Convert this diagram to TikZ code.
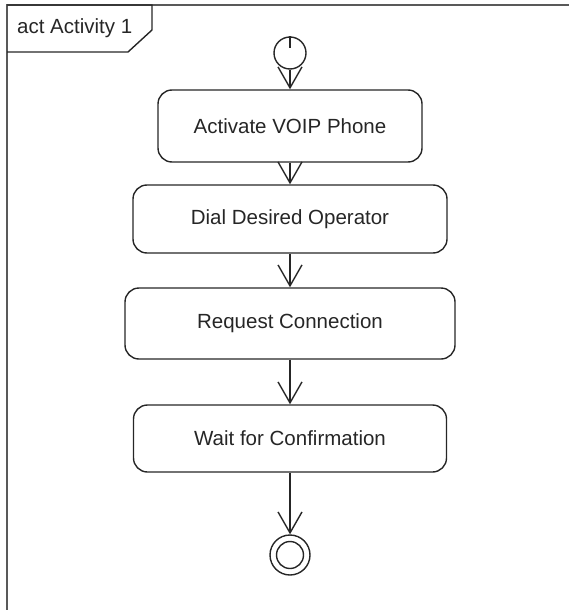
\documentclass[tikz,border=0pt]{standalone}
\usepackage{fontspec}
\setmainfont{Liberation Sans}
\usetikzlibrary{arrows.meta}
\begin{document}
\begin{tikzpicture}[x=1pt,y=-1pt,
  act/.style={draw=black!85, line width=1.4pt, rounded corners=14pt, inner sep=0pt,
    font=\fontsize{20.5}{24}\selectfont, text=black!85},
  flow/.style={draw=black!85, line width=1.4pt,
    -{Straight Barb[length=21pt,width=24pt,line width=1.4pt]}},
  lbl/.style={font=\fontsize{20.5}{24}\selectfont, text=black!85, inner sep=0pt}]
\useasboundingbox (0,0) rectangle (569,610);
% frame
\draw[line width=2pt, draw=black!65] (569,5) -- (7,5) -- (7,610);
\draw[line width=1.4pt, draw=black!85] (7,5) -- (152,5) -- (152,30) -- (128,52) -- (7,52);
\node[lbl, anchor=west] (title) at (17,28.5) {act Activity 1};
% initial node
\node[circle, draw=black!85, line width=1.4pt, minimum size=32pt, inner sep=0pt] (init) at (290,53) {};
\draw[line width=1.4pt, draw=black!85] (init.north) -- ([yshift=5pt]init.center);
% actions
\node[act, minimum width=264pt, minimum height=72pt] (a1) at (290,126) {Activate VOIP Phone};
\node[act, minimum width=314pt, minimum height=68pt] (a2) at (290,219) {Dial Desired Operator};
\node[act, minimum width=330pt, minimum height=71pt] (a3) at (290,323.5) {Request Connection};
\node[act, minimum width=313pt, minimum height=67pt] (a4) at (290,438.5) {Wait for Confirmation};
% final node
\node[circle, draw=black!85, line width=1.4pt, minimum size=40pt, inner sep=0pt] (fin) at (290,555) {};
\node[circle, draw=black!85, line width=1.4pt, minimum size=27pt, inner sep=0pt] (finin) at (fin.center) {};
% flows
\draw[flow] (init.south) -- (a1.north);
\draw[flow] (a1.south) -- (a2.north);
\draw[flow] (a2.south) -- (a3.north);
\draw[flow] (a3.south) -- (a4.north);
\draw[flow] (a4.south) -- (fin.north);
\end{tikzpicture}
\end{document}
